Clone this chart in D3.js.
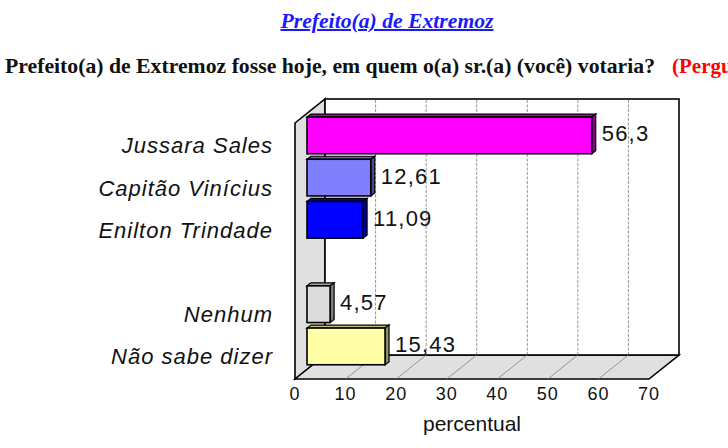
<!DOCTYPE html>
<html>
<head>
<meta charset="utf-8">
<script src="https://cdn.jsdelivr.net/npm/d3@7"></script>
<style>
  body { margin: 0; background: #fff; }
  svg { display: block; }
</style>
</head>
<body>
<div id="chart"></div>
<script>
// data
var categories = ["Jussara Sales", "Capitão Vinícius", "Enilton Trindade", "", "Nenhum", "Não sabe dizer"];
var values = [56.3, 12.61, 11.09, null, 4.57, 15.43];
var valueLabels = ["56,3", "12,61", "11,09", "", "4,57", "15,43"];
var barColors = ["#ff00ff", "#8080ff", "#0000ff", null, "#dcdcdc", "#ffffa8"];
var ticks = [0, 10, 20, 30, 40, 50, 60, 70];

var W = 728, H = 448;
var svg = d3.select("#chart").append("svg")
    .attr("width", W)
    .attr("height", H);

// titles
svg.append("text")
    .attr("x", 387).attr("y", 28)
    .attr("text-anchor", "middle")
    .attr("textLength", 213).attr("lengthAdjust", "spacingAndGlyphs")
    .style("font-family", "'Liberation Serif', serif")
    .style("font-size", "20px")
    .style("font-weight", "bold")
    .style("font-style", "italic")
    .style("text-decoration", "underline")
    .style("fill", "#1a1aff")
    .text("Prefeito(a) de Extremoz");

svg.append("text")
    .attr("x", 5).attr("y", 73)
    .attr("textLength", 650).attr("lengthAdjust", "spacingAndGlyphs")
    .style("font-family", "'Liberation Serif', serif")
    .style("font-size", "21px")
    .style("font-weight", "bold")
    .style("fill", "#111")
    .text("Prefeito(a) de Extremoz fosse hoje, em quem o(a) sr.(a) (você) votaria?");

svg.append("text")
    .attr("x", 672).attr("y", 73)
    .style("font-family", "'Liberation Serif', serif")
    .style("font-size", "21px")
    .style("font-weight", "bold")
    .style("fill", "#ff0000")
    .text("(Pergu");

// 3d box: front plane + depth offset
var DX = 30, DY = -24;
var frontTop = 123, frontBottom = 379;
var barDepth = 0.4;      // bars sit part-way into the box
var bdx = 4, bdy = -3;   // thickness of each bar

var x = d3.scaleLinear().domain([0, 70]).range([295, 649]);
var y = d3.scaleBand().domain(categories)
    .range([114.3, 367.5])
    .paddingInner(0.13)
    .paddingOuter(0.065);

function pts(a) { return a.map(function(p) { return p.join(","); }).join(" "); }

var x0 = x(0), x70 = x(70);

// left wall
svg.append("polygon")
    .attr("points", pts([[x0, frontTop], [x0 + DX, frontTop + DY], [x0 + DX, frontBottom + DY], [x0, frontBottom]]))
    .style("fill", "#e0e0e0").style("stroke", "#000").style("stroke-width", 1.6);

// floor
svg.append("polygon")
    .attr("points", pts([[x0, frontBottom], [x0 + DX, frontBottom + DY], [x70 + DX, frontBottom + DY], [x70, frontBottom]]))
    .style("fill", "#e0e0e0").style("stroke", "#000").style("stroke-width", 1.6);

// back wall
svg.append("rect")
    .attr("x", x0 + DX).attr("y", frontTop + DY)
    .attr("width", x70 - x0).attr("height", frontBottom - frontTop)
    .style("fill", "#fff").style("stroke", "#000").style("stroke-width", 1.6);

var inner = ticks.slice(1, -1);

// gridlines on back wall
svg.selectAll(".grid").data(inner).enter().append("line")
    .attr("class", "grid")
    .attr("x1", function(d) { return x(d) + DX; })
    .attr("x2", function(d) { return x(d) + DX; })
    .attr("y1", frontTop + DY + 1)
    .attr("y2", frontBottom + DY - 1)
    .style("stroke", "#8a8a8a").style("stroke-width", 0.9)
    .style("stroke-dasharray", "3,1.5");

// lines across the floor
svg.selectAll(".floorline").data(inner).enter().append("line")
    .attr("class", "floorline")
    .attr("x1", function(d) { return x(d); })
    .attr("y1", frontBottom)
    .attr("x2", function(d) { return x(d) + DX; })
    .attr("y2", frontBottom + DY)
    .style("stroke", "#808080").style("stroke-width", 0.8);

// bars
var rows = categories.map(function(c, i) {
    return { cat: c, v: values[i], label: valueLabels[i], color: barColors[i] };
});
var bh = y.bandwidth();
var bx0 = x0 + DX * barDepth;

var bars = svg.selectAll(".bar").data(rows.filter(function(d) { return d.v != null; }))
    .enter().append("g").attr("class", "bar");

bars.each(function(d) {
    var g = d3.select(this);
    var top = y(d.cat);
    var bx1 = x(d.v) + DX * barDepth;
    var c = d3.color(d.color);
    g.append("polygon")
        .attr("points", pts([[bx0, top], [bx0 + bdx, top + bdy], [bx1 + bdx, top + bdy], [bx1, top]]))
        .style("fill", c.darker(0.8)).style("stroke", "#000").style("stroke-width", 1.2);
    g.append("polygon")
        .attr("points", pts([[bx1, top], [bx1 + bdx, top + bdy], [bx1 + bdx, top + bh + bdy], [bx1, top + bh]]))
        .style("fill", c.darker(1.6)).style("stroke", "#000").style("stroke-width", 1.2);
    g.append("rect")
        .attr("x", bx0).attr("y", top)
        .attr("width", bx1 - bx0).attr("height", bh)
        .style("fill", d.color).style("stroke", "#000").style("stroke-width", 1.6);
    g.append("text")
        .attr("x", bx1 + 10).attr("y", top + bh / 2 + 6)
        .style("font-family", "'Liberation Sans', Arial, sans-serif")
        .style("font-size", "22px")
        .style("letter-spacing", "1.2px")
        .style("fill", "#111")
        .text(d.label);
});

// category labels (sit on the front plane)
svg.selectAll(".cat").data(rows.filter(function(d) { return d.cat !== ""; }))
    .enter().append("text")
    .attr("class", "cat")
    .attr("x", 273)
    .attr("y", function(d) { return y(d.cat) + bh / 2 + 18; })
    .attr("text-anchor", "end")
    .style("font-family", "'Liberation Sans', Arial, sans-serif")
    .style("font-size", "22px")
    .style("font-style", "italic")
    .style("letter-spacing", "1px")
    .style("fill", "#111")
    .text(function(d) { return d.cat; });

// x tick labels
svg.selectAll(".tick").data(ticks).enter().append("text")
    .attr("class", "tick")
    .attr("x", function(d) { return x(d); })
    .attr("y", 400)
    .attr("text-anchor", "middle")
    .style("font-family", "'Liberation Sans', Arial, sans-serif")
    .style("font-size", "18px")
    .style("letter-spacing", "1px")
    .style("fill", "#111")
    .text(function(d) { return d; });

svg.append("text")
    .attr("x", 472).attr("y", 431)
    .attr("text-anchor", "middle")
    .style("font-family", "'Liberation Sans', Arial, sans-serif")
    .style("font-size", "21px")
    .style("fill", "#111")
    .text("percentual");
</script>
</body>
</html>
